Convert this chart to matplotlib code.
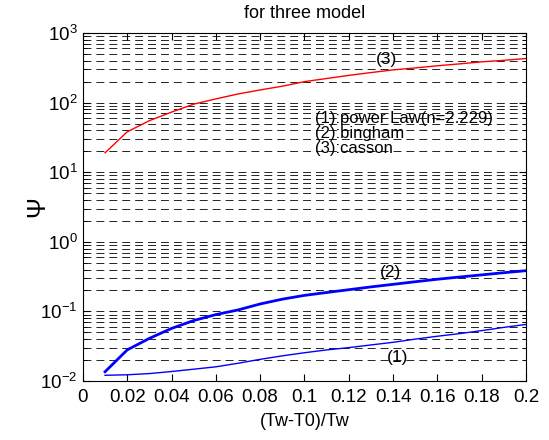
import numpy as np
import matplotlib
matplotlib.use("Agg")
import matplotlib.pyplot as plt
from matplotlib.ticker import LogLocator

plt.rcParams["font.family"] = ["Liberation Sans", "DejaVu Sans"]

# x = (Tw-T0)/Tw
x = [0.01, 0.02, 0.03, 0.04, 0.05, 0.06, 0.07, 0.08, 0.09, 0.10,
     0.11, 0.12, 0.13, 0.14, 0.15, 0.16, 0.17, 0.18, 0.19, 0.20]

# (1) power law n=2.229
psi_power = [0.0121, 0.0123, 0.0128, 0.0137, 0.0148, 0.0160, 0.0180, 0.0205, 0.0230, 0.0255,
             0.0280, 0.0302, 0.0330, 0.0360, 0.0400, 0.0440, 0.0480, 0.0530, 0.0590, 0.0650]
# (2) bingham
psi_bingham = [0.0136, 0.0280, 0.0410, 0.0570, 0.0740, 0.0900, 0.1050, 0.1280, 0.1500, 0.1700,
               0.1870, 0.2050, 0.2250, 0.2450, 0.2670, 0.2900, 0.3120, 0.3350, 0.3600, 0.3850]
# (3) casson
psi_casson = [19, 38, 55, 73, 95, 113, 133, 152, 172, 200,
              222, 246, 270, 295, 315, 338, 360, 385, 405, 430]

x_ticks = [0, 0.02, 0.04, 0.06, 0.08, 0.1, 0.12, 0.14, 0.16, 0.18, 0.2]
x_ticklabels = ["0", "0.02", "0.04", "0.06", "0.08", "0.1", "0.12", "0.14", "0.16", "0.18", "0.2"]

fig = plt.figure(figsize=(5.49, 4.40), dpi=100)
ax = fig.add_axes([0.151, 0.134, 0.807, 0.791])

ax.semilogy(x, psi_casson, color="red", linewidth=1.0)
ax.semilogy(x, psi_bingham, color="blue", linewidth=2.0)
ax.semilogy(x, psi_power, color="blue", linewidth=1.0)

ax.set_xlim(0, 0.2)
ax.set_ylim(1e-2, 1e3)
ax.set_xticks(x_ticks)
ax.set_xticklabels(x_ticklabels)
ax.yaxis.set_major_locator(LogLocator(base=10, numticks=10))
ax.yaxis.set_minor_locator(LogLocator(base=10, subs=np.arange(2, 10), numticks=10))

ax.grid(True, which="both", axis="y", color="black", linestyle=(0, (9.5, 6)), linewidth=0.6)
ax.tick_params(which="both", direction="in", top=True, right=True, labelsize=13.5)
ax.tick_params(which="major", length=5)
ax.tick_params(which="minor", length=3)
ax.tick_params(axis="x", pad=6)
ax.tick_params(axis="y", pad=4)

ax.set_title("for three model", fontsize=13, pad=11)
ax.set_xlabel("(Tw-T0)/Tw", fontsize=13, labelpad=5)
ax.set_ylabel("\u03a8", fontsize=18, labelpad=-7)

ax.text(0.137, 410, "(3)", fontsize=12.5, ha="center", va="center")
ax.text(0.139, 0.36, "(2)", fontsize=12.5, ha="center", va="center")
ax.text(0.142, 0.022, "(1)", fontsize=12.5, ha="center", va="center")
ax.text(0.105, 60, "(1):power Law(n=2.229)", fontsize=12, ha="left", va="center")
ax.text(0.105, 36, "(2):bingham", fontsize=12, ha="left", va="center")
ax.text(0.105, 22, "(3):casson", fontsize=12, ha="left", va="center")

fig.savefig("out.png", dpi=100)
